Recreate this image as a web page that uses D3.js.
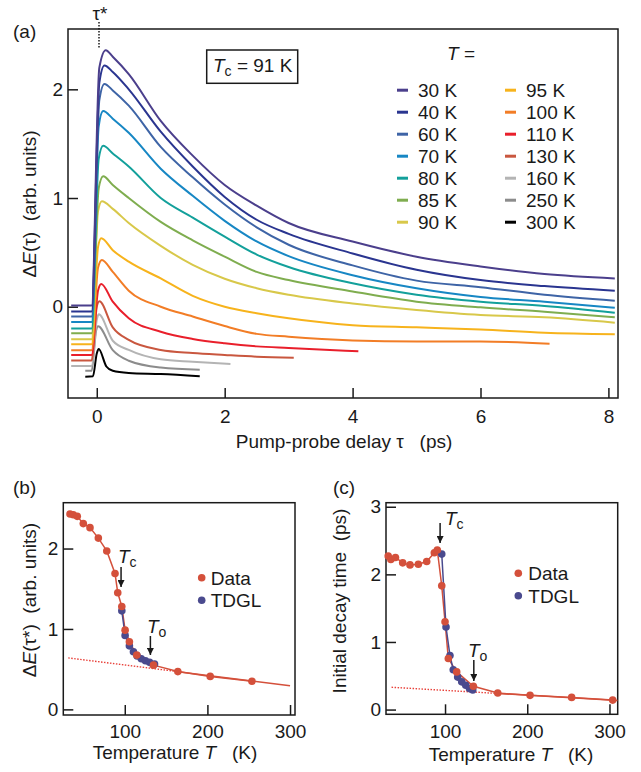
<!DOCTYPE html>
<html>
<head>
<meta charset="utf-8">
<script src="https://cdn.jsdelivr.net/npm/d3@7"></script>
<style>
  body { margin: 0; background: #fff; }
  svg { font-family: "Liberation Sans", Arial, sans-serif; }
  text { white-space: pre; }
</style>
</head>
<body>
<svg id="fig" width="641" height="772"></svg>
<script>
// ---- panel (a): transients, [delay (ps), dE]
const temps = [30, 40, 60, 70, 80, 85, 90, 95, 100, 110, 130, 160, 250, 300];
const colors = ['#4b3f8c', '#2a3590', '#3e64a6', '#1787c4', '#13a09b', '#7fad4f', '#d8c84a',
                '#f7b31c', '#f27d26', '#e91f2b', '#c9573f', '#b4b4b4', '#8c8c8c', '#000000'];

const trace30 = [[-0.4, 0.01], [-0.08, 0.01], [0.04, 2.2], [0.14, 2.36], [0.25, 2.3], [0.5, 2.14], [1.0, 1.71], [1.5, 1.39], [2.0, 1.12], [2.5, 0.93], [3.0, 0.77], [4.0, 0.6], [5.0, 0.46], [6.0, 0.37], [7.0, 0.3], [8.1, 0.26]];
const trace40 = [[-0.4, -0.045], [-0.08, -0.045], [0.04, 2.06], [0.12, 2.22], [0.25, 2.16], [0.5, 2.0], [1.0, 1.61], [1.5, 1.29], [2.0, 1.01], [2.5, 0.8], [3.0, 0.67], [4.0, 0.49], [5.0, 0.34], [6.0, 0.245], [7.0, 0.19], [8.1, 0.147]];
const trace60 = [[-0.4, -0.09], [-0.08, -0.09], [0.04, 1.9], [0.12, 2.05], [0.25, 1.99], [0.5, 1.85], [1.0, 1.47], [1.5, 1.19], [2.0, 0.94], [2.5, 0.73], [3.0, 0.57], [4.0, 0.38], [5.0, 0.24], [6.0, 0.18], [7.0, 0.11], [8.1, 0.055]];
const trace70 = [[-0.4, -0.14], [-0.08, -0.14], [0.03, 1.66], [0.1, 1.8], [0.25, 1.73], [0.5, 1.6], [1.0, 1.27], [1.5, 1.02], [2.0, 0.79], [2.5, 0.6], [3.0, 0.465], [4.0, 0.29], [5.0, 0.17], [6.0, 0.09], [7.0, 0.046], [8.1, -0.01]];
const trace80 = [[-0.4, -0.2], [-0.08, -0.2], [0.03, 1.36], [0.1, 1.48], [0.25, 1.41], [0.5, 1.29], [1.0, 1.0], [1.5, 0.82], [2.0, 0.645], [2.5, 0.48], [3.0, 0.365], [4.0, 0.215], [5.0, 0.11], [6.0, 0.046], [7.0, 0.006], [8.1, -0.055]];
const trace85 = [[-0.4, -0.245], [-0.08, -0.245], [0.03, 1.09], [0.1, 1.2], [0.25, 1.12], [0.5, 1.0], [1.0, 0.78], [1.5, 0.61], [2.0, 0.46], [2.5, 0.32], [3.0, 0.245], [4.0, 0.14], [5.0, 0.046], [6.0, -0.006], [7.0, -0.046], [8.1, -0.098]];
const trace90 = [[-0.4, -0.3], [-0.08, -0.3], [0.02, 0.88], [0.08, 0.97], [0.25, 0.9], [0.5, 0.77], [1.0, 0.56], [1.5, 0.385], [2.0, 0.257], [2.5, 0.17], [3.0, 0.11], [4.0, 0.03], [5.0, -0.03], [6.0, -0.076], [7.0, -0.098], [8.1, -0.147]];
const trace95 = [[-0.4, -0.345], [-0.08, -0.345], [0.02, 0.55], [0.07, 0.63], [0.25, 0.52], [0.5, 0.414], [1.0, 0.26], [1.5, 0.1], [2.0, 0.0], [2.5, -0.06], [3.0, -0.107], [4.0, -0.17], [5.0, -0.19], [6.0, -0.21], [7.0, -0.24], [8.1, -0.254]];
const trace100 = [[-0.4, -0.4], [-0.08, -0.4], [0.02, 0.36], [0.08, 0.43], [0.25, 0.32], [0.5, 0.147], [1.0, 0.0], [1.5, -0.09], [2.0, -0.178], [2.5, -0.25], [3.0, -0.276], [4.0, -0.31], [5.0, -0.32], [6.0, -0.32], [7.08, -0.34]];
const trace110 = [[-0.4, -0.445], [-0.08, -0.445], [0.02, 0.15], [0.07, 0.21], [0.25, 0.046], [0.5, -0.107], [1.0, -0.23], [1.5, -0.297], [2.0, -0.337], [2.5, -0.365], [3.0, -0.38], [4.09, -0.41]];
const trace130 = [[-0.4, -0.495], [-0.08, -0.495], [0.0, 0.0], [0.04, 0.05], [0.25, -0.19], [0.5, -0.306], [1.0, -0.398], [1.5, -0.426], [2.0, -0.444], [2.5, -0.46], [3.08, -0.47]];
const trace160 = [[-0.4, -0.545], [-0.08, -0.545], [0.0, -0.12], [0.03, -0.07], [0.25, -0.313], [0.5, -0.398], [1.0, -0.484], [1.5, -0.506], [2.09, -0.527]];
const trace250 = [[-0.18, -0.59], [-0.08, -0.59], [-0.01, -0.22], [0.02, -0.18], [0.25, -0.4], [0.5, -0.497], [1.0, -0.56], [1.61, -0.58]];
const trace300 = [[-0.18, -0.645], [-0.06, -0.64], [0.0, -0.43], [0.03, -0.39], [0.15, -0.55], [0.25, -0.59], [0.5, -0.61], [1.0, -0.62], [1.61, -0.64]];
const traces = [trace30, trace40, trace60, trace70, trace80, trace85, trace90, trace95,
                trace100, trace110, trace130, trace160, trace250, trace300];

const delayTicks = [0, 2, 4, 6, 8];
const dETicks = [0, 1, 2];

// ---- panel (b): dE(tau*) vs T
const tempB = [33.7, 37.7, 42.5, 49.8, 57.9, 68, 78.2, 88.2, 91.5, 96.4, 100.4, 105.6, 114.5, 134.7, 164.2, 203.4, 253.9];
const peakB = [2.43, 2.42, 2.4, 2.31, 2.26, 2.13, 1.97, 1.69, 1.45, 1.28, 0.985, 0.84, 0.675, 0.55, 0.47, 0.41, 0.35];
const tdglTempB = [96.4, 100.4, 105.6, 110.5, 115, 120, 125, 130, 136];
const tdglB = [1.225, 0.92, 0.79, 0.716, 0.665, 0.63, 0.605, 0.585, 0.565];
const fitB = [[31.6, 0.64], [300, 0.295]];

// ---- panel (c): initial decay time vs T
const tempC = [30.9, 34.1, 39.7, 48.5, 57.4, 67.5, 77.7, 87, 90.6, 96, 100, 104, 114.2, 134.5, 164.1, 203.4, 254, 303.9];
const decayC = [2.27, 2.22, 2.25, 2.17, 2.14, 2.15, 2.19, 2.32, 2.36, 1.83, 1.3, 0.755, 0.557, 0.345, 0.245, 0.21, 0.18, 0.14];
const tdglTempC = [96, 101.2, 106, 110, 115.4, 120.3, 125.2, 129.7, 133.7];
const tdglC = [2.3, 1.22, 0.8, 0.59, 0.48, 0.41, 0.36, 0.31, 0.29];
const fitC = [[35, 0.33], [310, 0.135]];

const tempTicks = [100, 200, 300];
const dEstarTicks = [0, 1, 2];
const decayTicks = [0, 1, 2, 3];

const red = '#d4503b', blue = '#4a4a8e', ink = '#1a1a1a', fs = 19;

const svg = d3.select('#fig');
svg.append('defs').append('marker')
  .attr('id', 'arrow').attr('viewBox', '0 0 10 10')
  .attr('refX', 10).attr('refY', 5)
  .attr('markerWidth', 7).attr('markerHeight', 7)
  .attr('markerUnits', 'userSpaceOnUse')
  .attr('orient', 'auto')
  .append('path').attr('d', 'M0,0L10,5L0,10z').attr('fill', ink);

function axes(g, x, y, xt, yt, xpad) {
  const [x0, x1] = x.range(), [y0, y1] = y.range();
  g.append('g').attr('transform', `translate(0,${y0})`)
    .call(d3.axisBottom(x).tickValues(xt).tickFormat(d3.format('d'))
      .tickSizeInner(-10).tickSizeOuter(0).tickPadding(xpad));
  g.append('g').attr('transform', `translate(${x0},0)`)
    .call(d3.axisLeft(y).tickValues(yt).tickFormat(d3.format('d'))
      .tickSizeInner(-10).tickSizeOuter(0).tickPadding(5));
  g.selectAll('.domain').remove();
  g.selectAll('.tick line').attr('stroke', ink).attr('stroke-width', 1.5);
  g.selectAll('.tick text').attr('font-size', fs).attr('fill', ink)
    .attr('font-family', '"Liberation Sans", Arial, sans-serif');
  g.append('rect').attr('x', x0).attr('y', y1).attr('width', x1 - x0).attr('height', y0 - y1)
    .attr('fill', 'none').attr('stroke', ink).attr('stroke-width', 1.5);
}

function label(x, y, parts, opts = {}) {
  const t = svg.append('text').attr('font-size', fs).attr('fill', ink)
    .attr('text-anchor', opts.anchor || 'start')
    .attr('transform', opts.rotate ? `translate(${x},${y}) rotate(-90)` : `translate(${x},${y})`);
  parts.forEach(p => {
    const s = t.append('tspan').text(p.t);
    if (p.i) s.attr('font-style', 'italic');
    if (p.sub) s.attr('font-size', 14).attr('dy', 4);
    if (p.up) s.attr('dy', -4);
  });
  return t;
}

// ---------- (a)
const xa = d3.scaleLinear().domain([-0.45, 8.15]).range([68, 618]);
const ya = d3.scaleLinear().domain([-0.84, 2.555]).range([398, 29]);
const ga = svg.append('g');
axes(ga, xa, ya, delayTicks, dETicks, 12);

const lineA = d3.line().x(d => xa(d[0])).y(d => ya(d[1])).curve(d3.curveMonotoneX);
const order = d3.range(traces.length).reverse();
ga.selectAll('path.trace').data(order).join('path')
  .attr('class', 'trace')
  .attr('d', i => lineA(traces[i]))
  .attr('fill', 'none').attr('stroke', i => colors[i]).attr('stroke-width', 2);

// legend
const legA = ga.append('g');
temps.forEach((T, i) => {
  const col = i < 7 ? 0 : 1, row = i % 7;
  const lx = col ? 505 : 397, by = 96.7 + row * 22;
  legA.append('line').attr('x1', lx).attr('x2', lx + 11).attr('y1', by - 6.5).attr('y2', by - 6.5)
    .attr('stroke', colors[i]).attr('stroke-width', 3);
  legA.append('text').attr('x', lx + 21).attr('y', by).attr('font-size', fs).attr('fill', ink)
    .text(`${T} K`);
});
label(447, 60, [{ t: 'T', i: true }, { t: ' =' }]);

// T_c box
svg.append('rect').attr('x', 206.7).attr('y', 50).attr('width', 91).attr('height', 33.3)
  .attr('fill', 'none').attr('stroke', ink).attr('stroke-width', 1.5);
label(213, 72, [{ t: 'T', i: true }, { t: 'c', sub: true }, { t: ' = 91 K', up: true }]);

// tau* marker
svg.append('line').attr('x1', 99).attr('x2', 99).attr('y1', 22).attr('y2', 48)
  .attr('stroke', ink).attr('stroke-width', 1.5).attr('stroke-dasharray', '1.5,1.5');
label(100, 20, [{ t: 'τ*' }], { anchor: 'middle' });

label(13, 38, [{ t: '(a)' }]);
label(344, 448, [{ t: 'Pump-probe delay τ   (ps)' }], { anchor: 'middle' });
label(36, 204, [{ t: 'Δ' }, { t: 'E', i: true }, { t: '(τ)  (arb. units)' }], { anchor: 'middle', rotate: true });

// ---------- (b) and (c)
function tempPanel(id, x, y, yt, temp, vals, tT, tV, fit) {
  const g = svg.append('g');
  axes(g, x, y, tempTicks, yt, 10);
  const [x0, x1] = x.range(), [y0, y1] = y.range();
  const split = x(160);
  const defs = svg.select('defs');
  defs.append('clipPath').attr('id', id + 'L').append('rect')
    .attr('x', x0).attr('y', y1).attr('width', split - x0).attr('height', y0 - y1);
  defs.append('clipPath').attr('id', id + 'R').append('rect')
    .attr('x', split).attr('y', y1).attr('width', x1 - split).attr('height', y0 - y1);
  const fl = d3.line().x(d => x(d[0])).y(d => y(d[1]));
  g.append('path').attr('d', fl(fit)).attr('clip-path', `url(#${id}L)`)
    .attr('fill', 'none').attr('stroke', '#e8413a').attr('stroke-width', 1.4).attr('stroke-dasharray', '1.5,1.5');
  g.append('path').attr('d', fl(fit)).attr('clip-path', `url(#${id}R)`)
    .attr('fill', 'none').attr('stroke', red).attr('stroke-width', 1.5);
  const data = temp.map((T, i) => [T, vals[i]]);
  const tdgl = tT.map((T, i) => [T, tV[i]]);
  g.append('path').attr('d', fl(data)).attr('fill', 'none').attr('stroke', red).attr('stroke-width', 1.5);
  g.append('path').attr('d', fl(tdgl)).attr('fill', 'none').attr('stroke', blue).attr('stroke-width', 1.5);
  g.selectAll('circle.t').data(tdgl).join('circle').attr('class', 't')
    .attr('cx', d => x(d[0])).attr('cy', d => y(d[1])).attr('r', 3.8).attr('fill', blue);
  g.selectAll('circle.d').data(data).join('circle').attr('class', 'd')
    .attr('cx', d => x(d[0])).attr('cy', d => y(d[1])).attr('r', 3.8).attr('fill', red);
  return g;
}

function arrow(x, ya0, ya1) {
  svg.append('line').attr('x1', x).attr('x2', x).attr('y1', ya0).attr('y2', ya1)
    .attr('stroke', ink).attr('stroke-width', 1.5).attr('marker-end', 'url(#arrow)');
}

function legendTemp(cx, cy, tx) {
  [['Data', red], ['TDGL', blue]].forEach(([name, c], i) => {
    svg.append('circle').attr('cx', cx).attr('cy', cy + i * 22.5).attr('r', 3.8).attr('fill', c);
    svg.append('text').attr('x', tx).attr('y', cy + 7 + i * 22.5).attr('font-size', fs).attr('fill', ink).text(name);
  });
}

const xb = d3.scaleLinear().domain([25.6, 306]).range([63.3, 295]);
const yb = d3.scaleLinear().domain([-0.07, 2.57]).range([715, 502.7]);
tempPanel('b', xb, yb, dEstarTicks, tempB, peakB, tdglTempB, tdglB, fitB);
legendTemp(201.7, 577.7, 210.7);
label(118, 563, [{ t: 'T', i: true }, { t: 'c', sub: true }]);
arrow(xb(95.5), 567, 587);
label(147, 633, [{ t: 'T', i: true }, { t: 'o', sub: true }]);
arrow(xb(131), 636, 655);
label(13, 494, [{ t: '(b)' }]);
label(175, 759, [{ t: 'Temperature ' }, { t: 'T', i: true }, { t: '   (K)' }], { anchor: 'middle' });
label(36, 600, [{ t: 'Δ' }, { t: 'E', i: true }, { t: '(τ*)  (arb. units)' }], { anchor: 'middle', rotate: true });

const xc = d3.scaleLinear().domain([28.2, 310]).range([386, 617.7]);
const yc = d3.scaleLinear().domain([-0.07, 3.06]).range([714.3, 502.7]);
tempPanel('c', xc, yc, decayTicks, tempC, decayC, tdglTempC, tdglC, fitC);
legendTemp(518.3, 573.3, 528.3);
label(445, 525, [{ t: 'T', i: true }, { t: 'c', sub: true }]);
arrow(xc(94), 523, 543);
label(468, 657, [{ t: 'T', i: true }, { t: 'o', sub: true }]);
arrow(xc(135), 660, 681);
label(333, 494, [{ t: '(c)' }]);
label(511, 761, [{ t: 'Temperature ' }, { t: 'T', i: true }, { t: '   (K)' }], { anchor: 'middle' });
label(346, 601, [{ t: 'Initial decay time  (ps)' }], { anchor: 'middle', rotate: true });
</script>
</body>
</html>
